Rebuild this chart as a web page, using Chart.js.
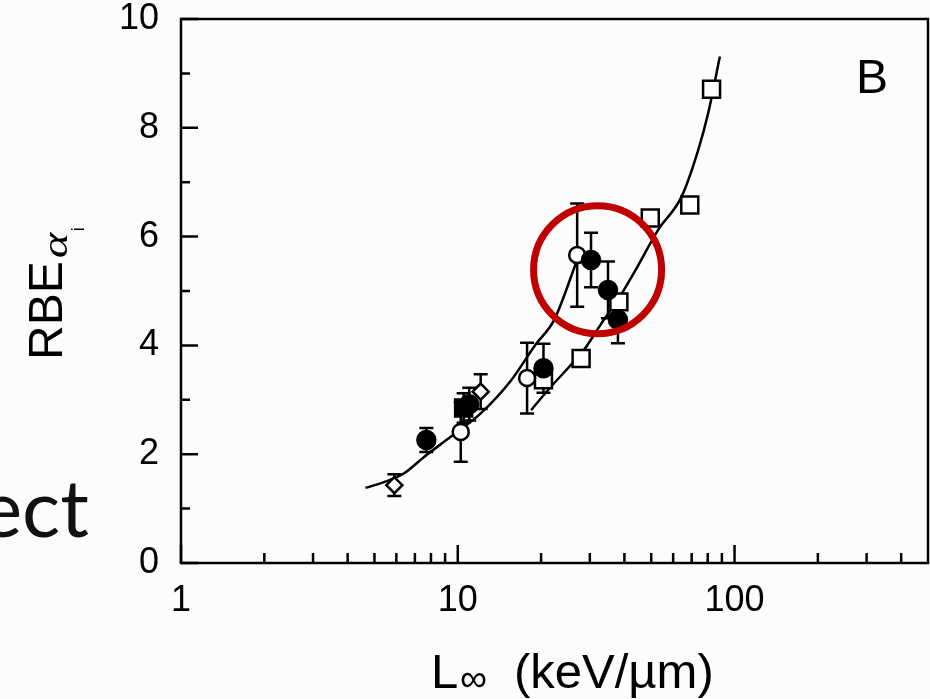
<!DOCTYPE html>
<html>
<head>
<meta charset="utf-8">
<script src="https://cdn.jsdelivr.net/npm/chart.js@4.4.1/dist/chart.umd.min.js"></script>
<style>
  html, body { margin: 0; padding: 0; background: #fcfcfc; }
  #wrap { position: relative; width: 930px; height: 699px; }
</style>
</head>
<body>
<div id="wrap"><canvas id="rbe"></canvas></div>
<script>
// RBE of alpha vs. LET (keV/um)
const openDiamondX = [5.9, 12.1];
const openDiamondY = [1.43, 3.15];
const openDiamondErr = [0.2, 0.32];

const filledCircleX = [7.7, 11.0, 20.4, 30.3, 34.9, 37.9];
const filledCircleY = [2.26, 2.92, 3.58, 5.57, 5.02, 4.47];
const filledCircleErr = [0.22, 0.3, 0.45, 0.5, 0.52, 0.43];

const filledSquareX = [10.5];
const filledSquareY = [2.85];
const filledSquareErr = [0.27];

const openCircleX = [10.25, 17.8, 27.0];
const openCircleY = [2.41, 3.40, 5.66];
const openCircleErr = [0.55, 0.65, 0.95];

const openSquareX = [20.4, 27.9, 38.2, 49.6, 68.9, 82.6];
const openSquareY = [3.37, 3.76, 4.80, 6.34, 6.58, 8.71];

// fitted curves
const upperFitX = [4.64, 5.5, 6.4, 7.55, 9.43, 12.1, 15.6, 19.0, 22.3, 27.0];
const upperFitY = [1.38, 1.50, 1.65, 1.95, 2.32, 2.75, 3.36, 4.00, 4.47, 5.57];
const lowerFitX = [18.4, 21.7, 25.0, 28.6, 33.0, 38.0, 43.5, 52.9, 64.3, 73.9, 80.3, 88.5];
const lowerFitY = [2.81, 3.24, 3.58, 3.92, 4.40, 4.85, 5.35, 6.12, 6.73, 7.59, 8.27, 9.31];

const xMajorTicks = [1, 10, 100];
const xMinorTicks = [2, 3, 4, 5, 6, 7, 8, 9, 20, 30, 40, 50, 60, 70, 80, 90, 200, 300, 400];
const yMajorTicks = [0, 2, 4, 6, 8, 10];
const yMinorTicks = [1, 3, 5, 7, 9];

const highlight = { x: 32, y: 5.39 };

const pts = (xs, ys) => xs.map((x, i) => ({ x: x, y: ys[i] }));

const FONT = '"Liberation Sans", Arial, Helvetica, sans-serif';
const LW = 2.5;

// vertical error bars with caps, under the markers
const errorBars = {
  id: 'errorBars',
  beforeDatasetsDraw(chart) {
    const { ctx, scales: { y } } = chart;
    ctx.save();
    ctx.strokeStyle = '#000';
    ctx.lineWidth = LW;
    chart.data.datasets.forEach((ds, i) => {
      if (!ds.errors) return;
      const meta = chart.getDatasetMeta(i);
      meta.data.forEach((el, j) => {
        const e = ds.errors[j];
        if (!e) return;
        const v = ds.data[j].y;
        const top = y.getPixelForValue(v + e);
        const bot = y.getPixelForValue(v - e);
        ctx.beginPath();
        ctx.moveTo(el.x, top); ctx.lineTo(el.x, bot);
        ctx.moveTo(el.x - 7, top); ctx.lineTo(el.x + 7, top);
        ctx.moveTo(el.x - 7, bot); ctx.lineTo(el.x + 7, bot);
        ctx.stroke();
      });
    });
    ctx.restore();
  }
};

// box frame, inward ticks, titles and annotations
const decorations = {
  id: 'decorations',
  afterDraw(chart) {
    const { ctx, chartArea: a, scales: { x, y } } = chart;
    ctx.save();
    ctx.strokeStyle = '#000';
    ctx.lineWidth = LW;
    ctx.strokeRect(a.left, a.top, a.right - a.left, a.bottom - a.top);

    ctx.beginPath();
    xMajorTicks.forEach(v => { const p = x.getPixelForValue(v); ctx.moveTo(p, a.bottom); ctx.lineTo(p, a.bottom - 18); });
    xMinorTicks.forEach(v => { const p = x.getPixelForValue(v); ctx.moveTo(p, a.bottom); ctx.lineTo(p, a.bottom - 10); });
    yMajorTicks.forEach(v => { const p = y.getPixelForValue(v); ctx.moveTo(a.left, p); ctx.lineTo(a.left + 17, p); });
    yMinorTicks.forEach(v => { const p = y.getPixelForValue(v); ctx.moveTo(a.left, p); ctx.lineTo(a.left + 9, p); });
    ctx.stroke();

    ctx.fillStyle = '#000';
    ctx.textBaseline = 'alphabetic';
    ctx.textAlign = 'left';

    // panel letter
    ctx.font = '48px ' + FONT;
    ctx.fillText('B', 856, 93);

    // x title
    ctx.font = '49px ' + FONT;
    ctx.fillText('L', 431, 688);
    ctx.font = '38px ' + FONT;
    ctx.fillText('\u221E', 460, 691);
    ctx.font = '49px ' + FONT;
    ctx.fillText('(keV/\u00B5m)', 514, 688);

    // y title, rotated
    ctx.save();
    ctx.translate(62, 360);
    ctx.rotate(-Math.PI / 2);
    ctx.font = '48px ' + FONT;
    ctx.fillText('RBE', 0, 0);
    const w = ctx.measureText('RBE').width;
    ctx.save();
    ctx.translate(w + 3, 5);
    ctx.scale(1.35, 1);
    ctx.font = 'italic 36px "Liberation Serif", serif';
    ctx.fillText('\u03B1', 0, 0);
    ctx.restore();
    ctx.font = '18px ' + FONT;
    ctx.fillText('i', w + 30, 22);
    ctx.restore();

    // slide text fragment
    ctx.font = '80px Lato, "Open Sans", sans-serif';
    ctx.textAlign = 'right';
    ctx.fillStyle = '#111';
    ctx.fillText('ect', 89, 537);

    // highlight ring
    ctx.beginPath();
    ctx.arc(x.getPixelForValue(highlight.x), y.getPixelForValue(highlight.y), 64, 0, Math.PI * 2);
    ctx.lineWidth = 7;
    ctx.strokeStyle = '#c00000';
    ctx.stroke();
    ctx.restore();
  }
};

const marker = (style, r, fill) => ({
  pointStyle: style, pointRadius: r, pointHoverRadius: r,
  pointBackgroundColor: fill, pointBorderColor: '#000', pointBorderWidth: LW,
  showLine: false
});

const curve = data => ({
  type: 'line', data: data, showLine: true, pointRadius: 0,
  borderColor: '#000', borderWidth: LW, fill: false,
  cubicInterpolationMode: 'monotone', order: 10
});

// keep the plot box fixed; labels may spill past it
const noPad = s => { s.paddingTop = 0; s.paddingBottom = 0; s.paddingLeft = 0; s.paddingRight = 0; };

new Chart(document.getElementById('rbe'), {
  type: 'scatter',
  data: {
    datasets: [
      curve(pts(upperFitX, upperFitY)),
      curve(pts(lowerFitX, lowerFitY)),
      Object.assign({ data: pts(openSquareX, openSquareY), order: 5 }, marker('rect', 12, '#fff')),
      Object.assign({ data: pts(openDiamondX, openDiamondY), errors: openDiamondErr, order: 4 }, marker('rectRot', 8, '#fff')),
      Object.assign({ data: pts(openCircleX, openCircleY), errors: openCircleErr, order: 3 }, marker('circle', 8, '#fff')),
      Object.assign({ data: pts(filledSquareX, filledSquareY), errors: filledSquareErr, order: 2 }, marker('rect', 12, '#000')),
      Object.assign({ data: pts(filledCircleX, filledCircleY), errors: filledCircleErr, order: 1 }, marker('circle', 9, '#000'))
    ]
  },
  options: {
    responsive: true,
    maintainAspectRatio: false,
    animation: false,
    devicePixelRatio: 1,
    layout: { autoPadding: false, padding: { top: 19, right: 2, left: 0, bottom: 0 } },
    plugins: { legend: { display: false }, tooltip: { enabled: false } },
    scales: {
      x: {
        type: 'logarithmic', min: 1, max: 500,
        grid: { display: false, drawTicks: false },
        border: { display: false },
        afterBuildTicks: s => { s.ticks = xMajorTicks.map(v => ({ value: v })); },
        afterFit: s => { s.height = 136; noPad(s); },
        ticks: {
          autoSkip: false, maxRotation: 0, padding: 16, color: '#000',
          font: { family: FONT, size: 36 },
          callback: v => String(v)
        }
      },
      y: {
        min: 0, max: 10,
        grid: { display: false, drawTicks: false },
        border: { display: false },
        afterBuildTicks: s => { s.ticks = yMajorTicks.map(v => ({ value: v })); },
        afterFit: s => { s.width = 181; noPad(s); },
        ticks: {
          padding: 22, color: '#000',
          font: { family: FONT, size: 36 },
          callback: v => String(v)
        }
      }
    }
  },
  plugins: [errorBars, decorations]
});
</script>
</body>
</html>
